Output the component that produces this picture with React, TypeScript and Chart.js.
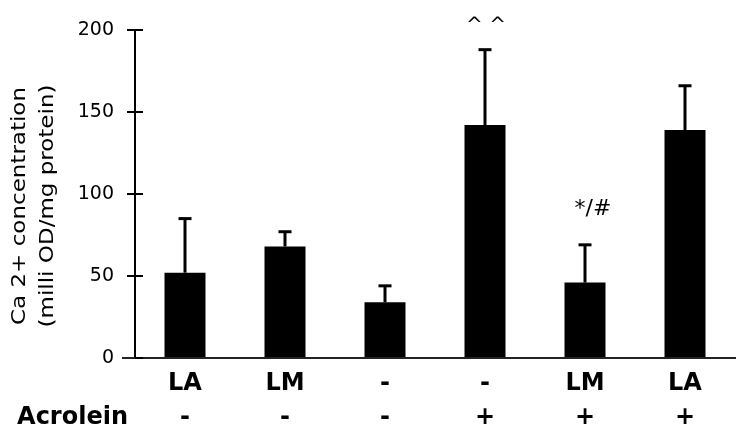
import React, { useEffect, useRef } from "react";
import { Chart, registerables } from "chart.js";

Chart.register(...registerables);

const categories = ["LA", "LM", "-", "-", "LM", "LA"];
const acrolein = ["-", "-", "-", "+", "+", "+"];
const means = [52, 68, 34, 142, 46, 139];
const errors = [33, 9, 10, 46, 23, 27];
const annotations = ["", "", "", "^^", "*/#", ""];
const yTicks = [0, 50, 100, 150, 200];
const yTitle = ["Ca 2+ concentration", "(milli OD/mg protein)"];
const rowLabel = "Acrolein";

const FONT = "'DejaVu Sans', sans-serif";
const LINE_H = 34;
const TICK_PAD = 9;

const extrasPlugin = {
  id: "extras",
  afterDatasetsDraw(chart: any) {
    const { ctx } = chart;
    const xs = chart.scales.x;
    const ys = chart.scales.y;
    ctx.save();
    ctx.strokeStyle = "#000";
    ctx.lineWidth = 3;
    means.forEach((m, i) => {
      const x = xs.getPixelForValue(i);
      const y0 = ys.getPixelForValue(m);
      const y1 = ys.getPixelForValue(m + errors[i]);
      ctx.beginPath();
      ctx.moveTo(x, y0);
      ctx.lineTo(x, y1);
      ctx.stroke();
      ctx.beginPath();
      ctx.moveTo(x - 6.5, y1);
      ctx.lineTo(x + 6.5, y1);
      ctx.stroke();
    });
    ctx.restore();
  },
  afterDraw(chart: any) {
    const { ctx, chartArea } = chart;
    const xs = chart.scales.x;
    const ys = chart.scales.y;
    ctx.save();
    // inward tick marks
    ctx.strokeStyle = "#000";
    ctx.lineWidth = 2;
    yTicks.forEach((t) => {
      const y = Math.round(ys.getPixelForValue(t));
      ctx.beginPath();
      ctx.moveTo(chartArea.left, y);
      ctx.lineTo(chartArea.left + 8, y);
      ctx.stroke();
    });
    // x axis extension to the left
    ctx.strokeStyle = "#222";
    ctx.beginPath();
    ctx.moveTo(chartArea.left - 13, chartArea.bottom);
    ctx.lineTo(chartArea.left, chartArea.bottom);
    ctx.stroke();

    // annotations
    ctx.fillStyle = "#000";
    ctx.textAlign = "center";
    ctx.textBaseline = "middle";
    annotations.forEach((a, i) => {
      if (!a) return;
      const x = xs.getPixelForValue(i);
      const y = ys.getPixelForValue(means[i] + errors[i]);
      if (a === "^^") {
        ctx.font = `20px ${FONT}`;
        ctx.fillText("^ ^", x + 1, y - 24);
      } else {
        ctx.font = `22px ${FONT}`;
        ctx.fillText(a, x + 8, y - 36);
      }
    });

    // row label
    ctx.font = `bold 24px ${FONT}`;
    ctx.textAlign = "right";
    ctx.fillText(rowLabel, chartArea.left - 7, chartArea.bottom + TICK_PAD + LINE_H * 1.5);

    // y title
    ctx.font = `23px ${FONT}`;
    ctx.textAlign = "center";
    const cy = (chartArea.top + chartArea.bottom) / 2 + 12;
    const xsPos = [20, 48];
    yTitle.forEach((line, i) => {
      ctx.save();
      ctx.translate(xsPos[i], cy);
      ctx.rotate(-Math.PI / 2);
      ctx.scale(1, 0.85);
      ctx.fillText(line, 0, 0);
      ctx.restore();
    });
    ctx.restore();
  },
};

export default function App() {
  const ref = useRef<HTMLCanvasElement | null>(null);

  useEffect(() => {
    document.body.style.margin = "0";
    if (!ref.current) return;
    const chart = new Chart(ref.current, {
      type: "bar",
      data: {
        labels: categories.map((c, i) => [c, acrolein[i]]),
        datasets: [
          {
            data: means,
            backgroundColor: "#000",
            borderWidth: 0,
            categoryPercentage: 1,
            barPercentage: 0.41,
          },
        ],
      },
      options: {
        animation: false,
        responsive: true,
        maintainAspectRatio: false,
        layout: { padding: { top: 30, right: 15, left: 0, bottom: 0 } },
        plugins: {
          legend: { display: false },
          tooltip: { enabled: false },
          title: { display: false },
        },
        scales: {
          x: {
            grid: { display: false, drawTicks: false, tickLength: 0 },
            border: { display: true, color: "#222", width: 2 },
            ticks: {
              color: "#000",
              autoSkip: false,
              maxRotation: 0,
              padding: TICK_PAD,
              font: { family: FONT, size: 24, weight: "bold", lineHeight: LINE_H / 24 },
            },
            afterFit: (s: any) => {
              s.height = 84;
            },
          },
          y: {
            min: 0,
            max: 200,
            ticks: {
              stepSize: 50,
              color: "#000",
              padding: 13,
              font: { family: FONT, size: 19 },
            },
            grid: {
              drawOnChartArea: false,
              drawTicks: true,
              tickLength: 8,
              color: "#000",
              lineWidth: 2,
            },
            border: { display: true, color: "#000", width: 2 },
            afterFit: (s: any) => {
              s.width = 135;
            },
          },
        },
      },
      plugins: [extrasPlugin],
    });
    return () => chart.destroy();
  }, []);

  return (
    <div style={{ position: "fixed", left: 0, top: 0, width: 750, height: 442, background: "#fff" }}>
      <canvas ref={ref} />
    </div>
  );
}
